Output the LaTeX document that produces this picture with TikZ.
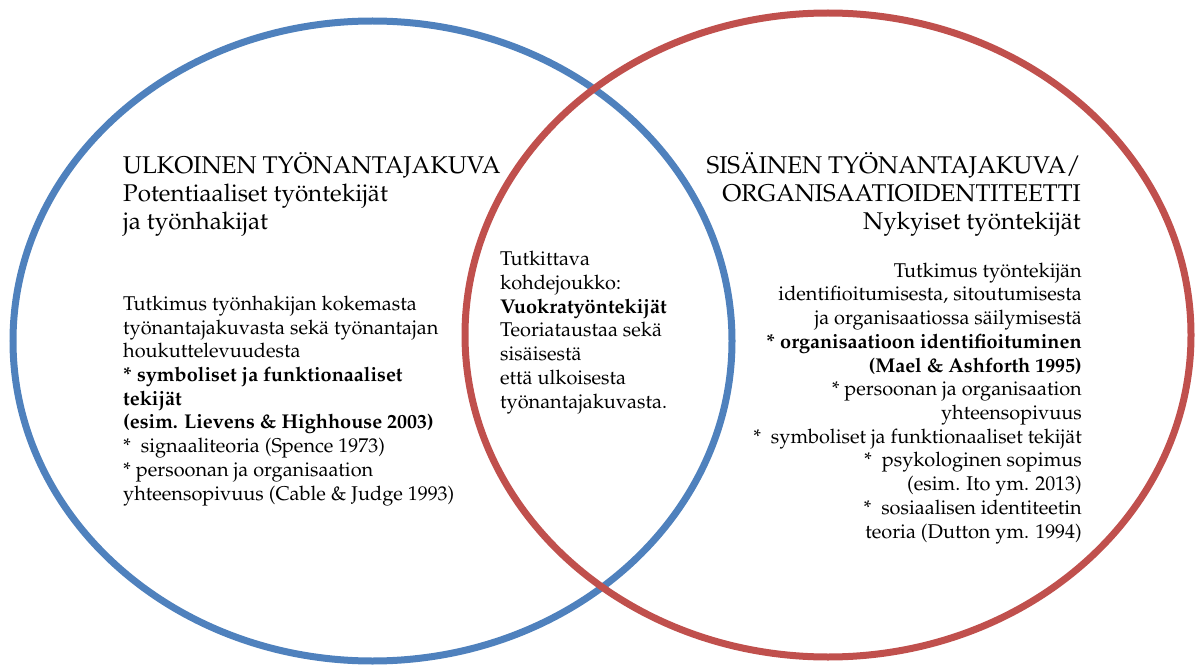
\documentclass[tikz,border=0pt]{standalone}
\usepackage[T1]{fontenc}
\renewcommand{\rmdefault}{ppl}
\begin{document}
\begin{tikzpicture}[x=1bp,y=-1bp,
  ring/.style={line width=7bp},
  headtext/.style={font=\fontsize{24.3}{28.2}\selectfont, inner sep=0pt},
  bodytext/.style={font=\fontsize{20}{23.8}\selectfont, inner sep=0pt}]
\definecolor{ringblue}{HTML}{4F81BD}
\definecolor{ringred}{HTML}{C0504D}
\useasboundingbox (0,0) rectangle (1196,666);
% the two overlapping sets
\draw[ring, ringblue] (372.5,341) ellipse [x radius=359.5, y radius=320];
\draw[ring, ringred] (828,335) ellipse [x radius=363, y radius=322];
% left set (nodes are placed by the baseline of their last line)
\node[headtext, anchor=base west, align=left] (lefthead) at (123,230)
  {ULKOINEN TYÖNANTAJAKUVA\\Potentiaaliset työntekijät\\ja työnhakijat};
\node[bodytext, anchor=base west, align=left] (leftbody) at (123,500)
  {Tutkimus työnhakijan kokemasta\\työnantajakuvasta sekä työnantajan\\houkuttelevuudesta\\
   \textbf{* symboliset ja funktionaaliset}\\\textbf{tekijät}\\
   \textbf{(esim. Lievens \& Highhouse 2003)}\\
   *\ \ signaaliteoria (Spence 1973)\\* persoonan ja organisaation\\
   yhteensopivuus (Cable \& Judge 1993)};
% overlap
\node[bodytext, anchor=base west, align=left] (middle) at (500,408)
  {Tutkittava\\kohdejoukko:\\\textbf{Vuokratyöntekijät}\\Teoriataustaa sekä\\sisäisestä\\että ulkoisesta\\työnantajakuvasta.};
% right set
\node[headtext, anchor=base east, align=right] (righthead) at (1081,230)
  {SISÄINEN TYÖNANTAJAKUVA/\\ORGANISAATIOIDENTITEETTI\\Nykyiset työntekijät};
\node[bodytext, anchor=base east, align=right] (rightbody) at (1082,538)
  {Tutkimus työntekijän\\identifioitumisesta, sitoutumisesta\\ja organisaatiossa säilymisestä\\
   \textbf{* organisaatioon identifioituminen}\\\textbf{(Mael \& Ashforth 1995)}\\
   * persoonan ja organisaation\\yhteensopivuus\\
   *\ \ symboliset ja funktionaaliset tekijät\\*\ \ psykologinen sopimus\\(esim. Ito ym. 2013)\\
   *\ \ sosiaalisen identiteetin\\teoria (Dutton ym. 1994)};
\end{tikzpicture}
\end{document}
